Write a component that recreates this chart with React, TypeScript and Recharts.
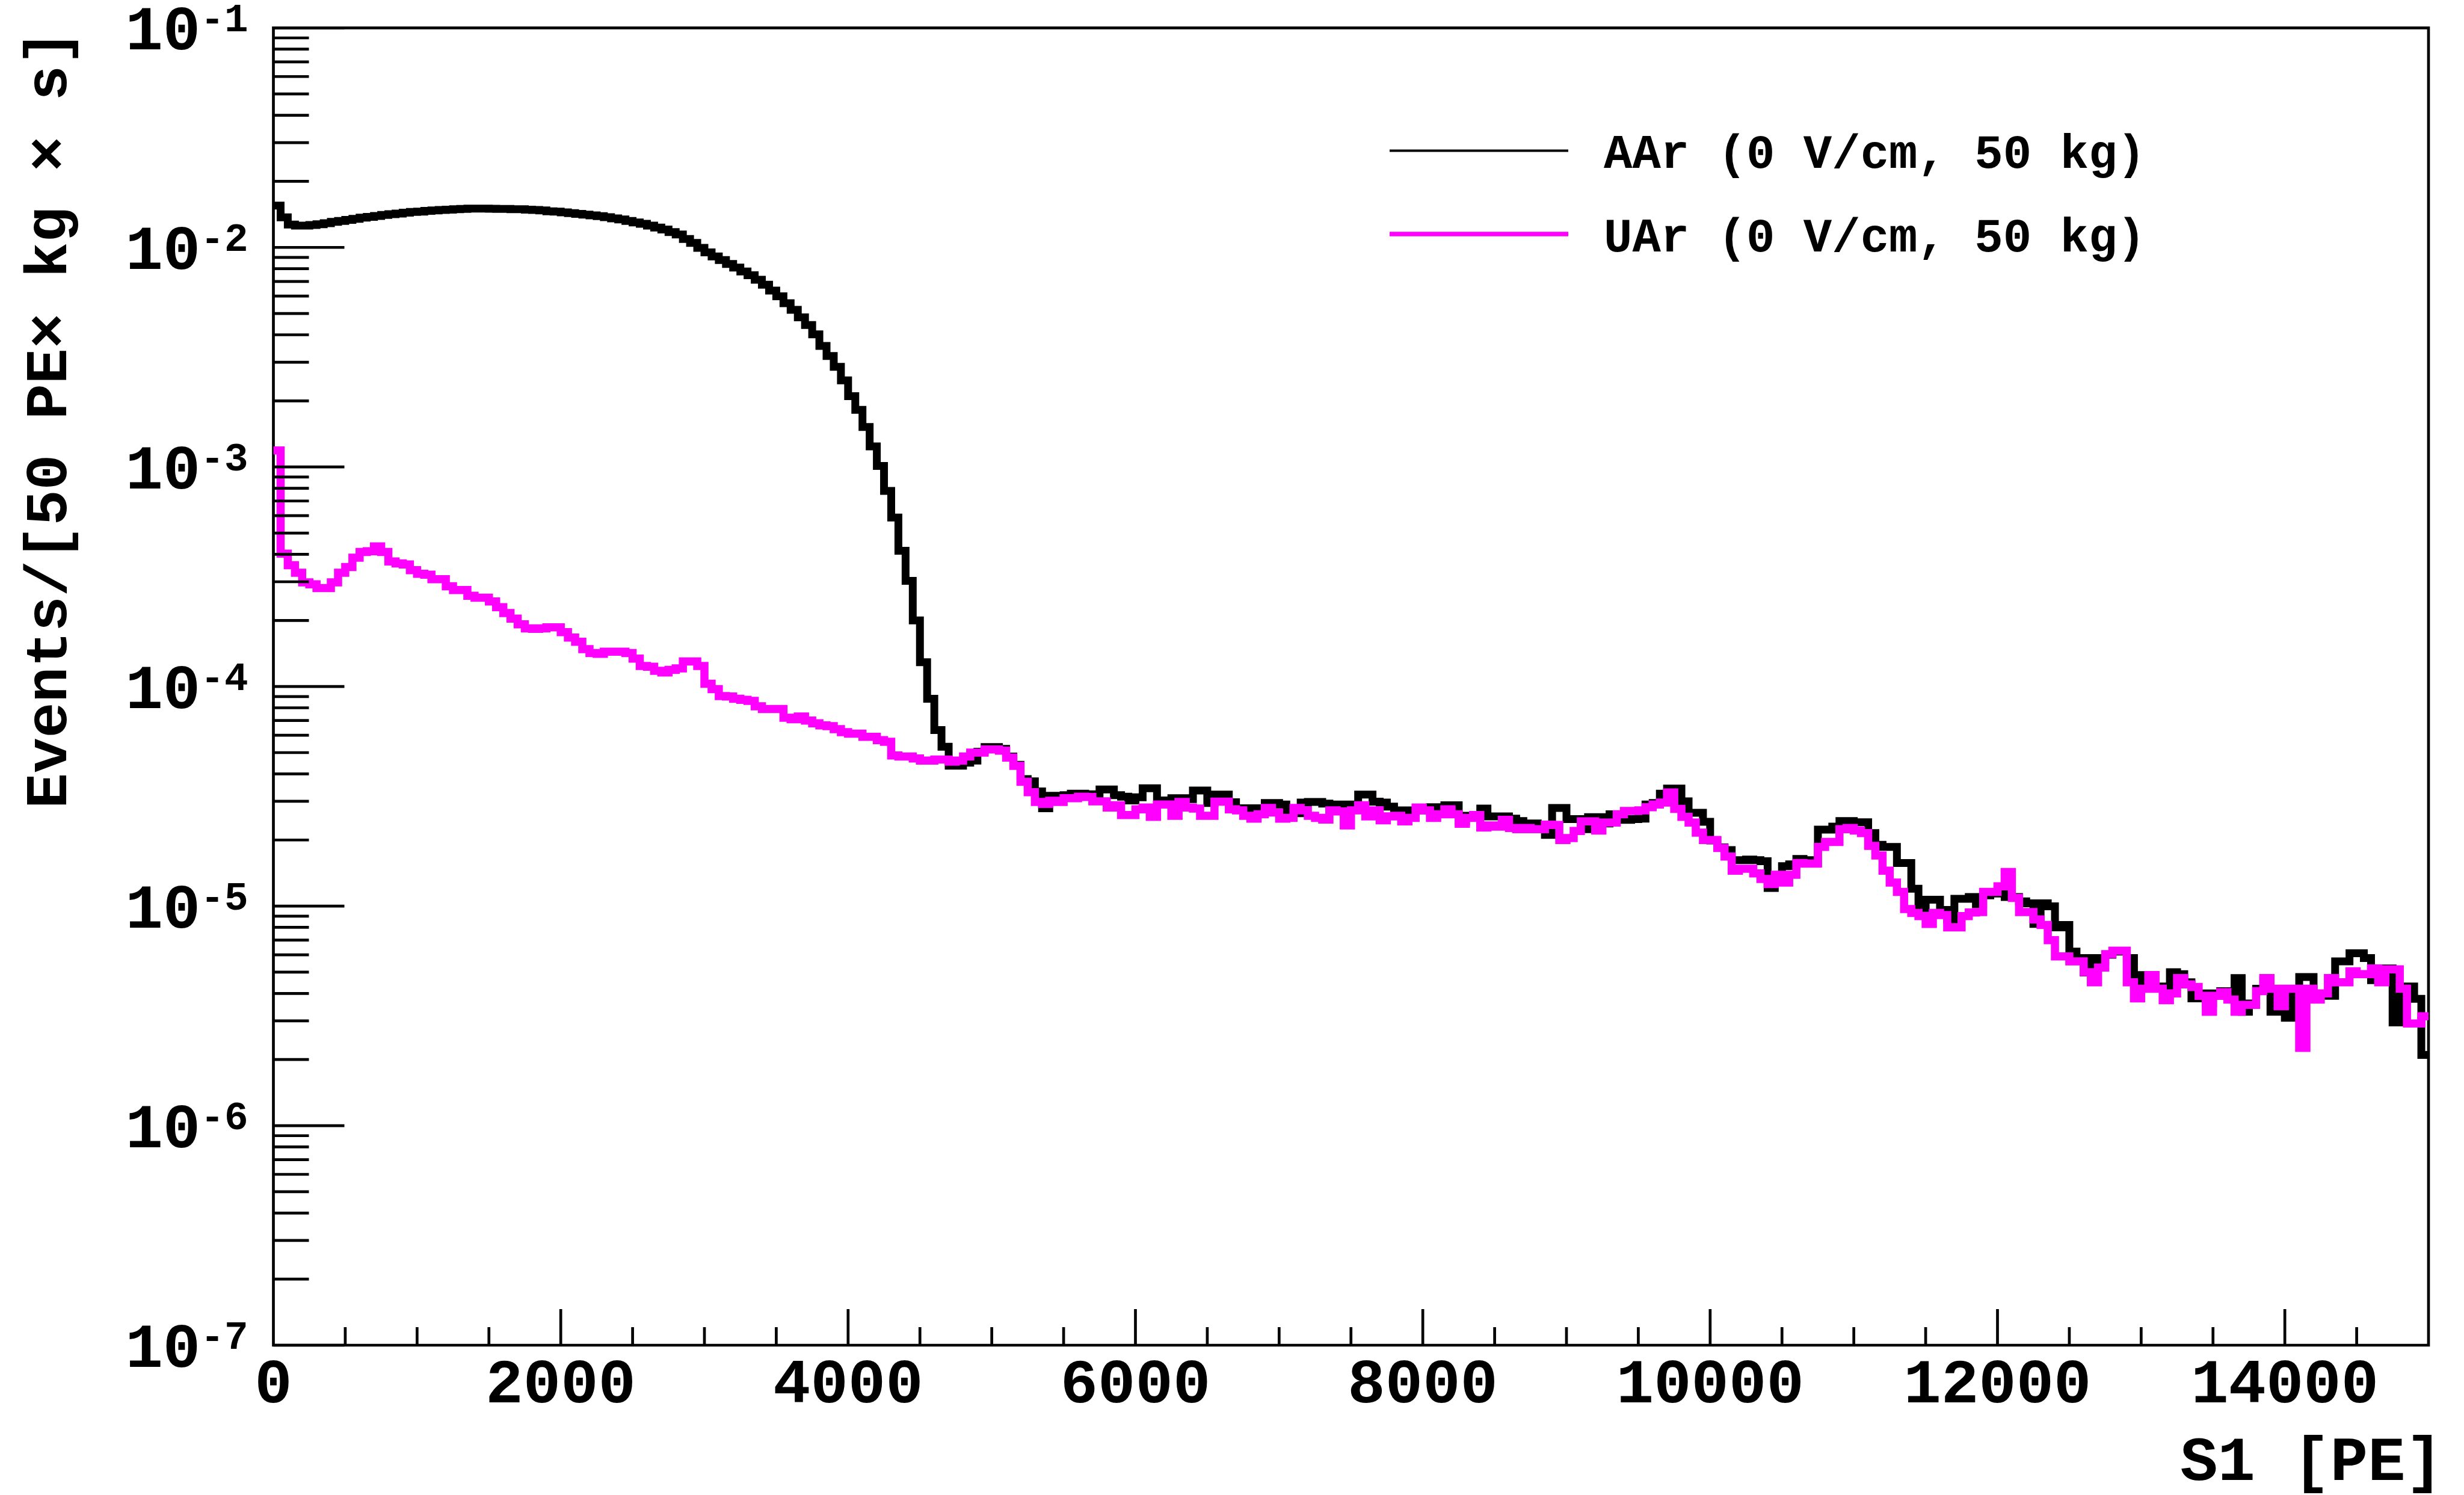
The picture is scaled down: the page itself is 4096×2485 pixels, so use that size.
import React from "react";
import { LineChart, Line, XAxis, YAxis, ReferenceArea } from "recharts";

// S1 spectra, 50 PE bins from 0 to 15000 PE, events / (50 PE x kg x s)
const BIN_WIDTH = 50;
const X_MAX = 15000;

const aarRate = [
  1.55e-2, 1.37e-2, 1.27e-2, 1.256e-2, 1.256e-2, 1.265e-2, 1.275e-2, 1.29e-2, 1.307e-2, 1.32e-2,
  1.334e-2, 1.35e-2, 1.366e-2, 1.377e-2, 1.39e-2, 1.405e-2, 1.416e-2, 1.427e-2, 1.439e-2, 1.45e-2,
  1.456e-2, 1.467e-2, 1.475e-2, 1.48e-2, 1.486e-2, 1.492e-2, 1.497e-2, 1.503e-2, 1.503e-2, 1.503e-2,
  1.5e-2, 1.497e-2, 1.497e-2, 1.492e-2, 1.492e-2, 1.486e-2, 1.48e-2, 1.475e-2, 1.46e-2, 1.456e-2,
  1.445e-2, 1.433e-2, 1.422e-2, 1.41e-2, 1.399e-2, 1.388e-2, 1.372e-2, 1.355e-2, 1.34e-2, 1.32e-2,
  1.3e-2, 1.281e-2, 1.256e-2, 1.231e-2, 1.207e-2, 1.174e-2, 1.145e-2, 1.092e-2, 1.049e-2, 9.96e-3,
  9.5e-3, 9.1e-3, 8.76e-3, 8.41e-3, 8.09e-3, 7.77e-3, 7.47e-3, 7.12e-3, 6.76e-3, 6.36e-3,
  5.99e-3, 5.57e-3, 5.2e-3, 4.8e-3, 4.43e-3, 4.02e-3, 3.56e-3, 3.2e-3, 2.86e-3, 2.48e-3,
  2.1e-3, 1.82e-3, 1.52e-3, 1.24e-3, 1.01e-3, 7.78e-4, 5.88e-4, 4.15e-4, 3.03e-4, 2.0e-4,
  1.29e-4, 8.8e-5, 6.34e-5, 5.32e-5, 4.36e-5, 4.36e-5, 4.5e-5, 4.6e-5, 5.05e-5, 5.3e-5,
  5.3e-5, 5.2e-5, 4.8e-5, 4.4e-5, 3.79e-5, 3.7e-5, 3.33e-5, 2.79e-5, 3.18e-5, 3.18e-5,
  3.2e-5, 3.25e-5, 3.25e-5, 3.23e-5, 3.23e-5, 3.4e-5, 3.4e-5, 3.2e-5, 3.15e-5, 3.03e-5,
  3.13e-5, 3.44e-5, 3.44e-5, 3.0e-5, 3.03e-5, 3.1e-5, 3.1e-5, 3.07e-5, 3.36e-5, 3.36e-5,
  2.95e-5, 3.22e-5, 3.22e-5, 2.97e-5, 2.79e-5, 2.79e-5, 2.79e-5, 2.67e-5, 2.95e-5, 2.95e-5,
  2.9e-5, 2.67e-5, 2.65e-5, 2.96e-5, 2.98e-5, 2.98e-5, 2.93e-5, 2.73e-5, 2.9e-5, 2.9e-5,
  2.84e-5, 3.22e-5, 3.22e-5, 2.99e-5, 2.96e-5, 2.84e-5, 2.73e-5, 2.73e-5, 2.67e-5, 2.73e-5,
  2.79e-5, 2.82e-5, 2.75e-5, 2.88e-5, 2.88e-5, 2.42e-5, 2.58e-5, 2.58e-5, 2.78e-5, 2.56e-5,
  2.56e-5, 2.56e-5, 2.5e-5, 2.44e-5, 2.38e-5, 2.38e-5, 2.35e-5, 2.11e-5, 2.8e-5, 2.8e-5,
  2.49e-5, 2.49e-5, 2.24e-5, 2.54e-5, 2.54e-5, 2.38e-5, 2.62e-5, 2.62e-5, 2.47e-5, 2.49e-5,
  2.5e-5, 2.9e-5, 2.95e-5, 3.25e-5, 3.43e-5, 3.43e-5, 3.0e-5, 2.66e-5, 2.66e-5, 2.42e-5,
  1.99e-5, 1.85e-5, 1.8e-5, 1.62e-5, 1.62e-5, 1.63e-5, 1.62e-5, 1.6e-5, 1.21e-5, 1.31e-5,
  1.52e-5, 1.55e-5, 1.64e-5, 1.62e-5, 1.57e-5, 2.23e-5, 2.23e-5, 2.3e-5, 2.44e-5, 2.44e-5,
  2.41e-5, 2.41e-5, 2.15e-5, 1.9e-5, 1.86e-5, 1.86e-5, 1.57e-5, 1.57e-5, 1.2e-5, 9.8e-6,
  1.07e-5, 1.07e-5, 9.6e-6, 8.7e-6, 1.08e-5, 1.08e-5, 1.1e-5, 1.02e-5, 1.12e-5, 1.14e-5,
  1.14e-5, 1.1e-5, 1.1e-5, 1.05e-5, 1.03e-5, 8.3e-6, 1.03e-5, 9.97e-6, 8.0e-6, 8.2e-6,
  6.2e-6, 5.8e-6, 4.98e-6, 5.8e-6, 5.6e-6, 6.0e-6, 6.2e-6, 6.2e-6, 5.8e-6, 4.85e-6,
  4.3e-6, 4.8e-6, 4.2e-6, 4.3e-6, 5.0e-6, 4.9e-6, 4.5e-6, 3.8e-6, 4.0e-6, 3.6e-6,
  4.0e-6, 4.1e-6, 3.8e-6, 4.7e-6, 3.3e-6, 3.6e-6, 4.2e-6, 4.6e-6, 3.3e-6, 3.3e-6,
  3.1e-6, 4.1e-6, 4.75e-6, 4.75e-6, 3.9e-6, 3.9e-6, 3.9e-6, 5.6e-6, 5.6e-6, 6.1e-6,
  6.1e-6, 5.8e-6, 4.6e-6, 4.8e-6, 5.2e-6, 2.95e-6, 4.3e-6, 4.3e-6, 3.78e-6, 2.1e-6,
];

const uarRate = [
  1.19e-3, 4.03e-4, 3.57e-4, 3.3e-4, 2.98e-4, 2.92e-4, 2.81e-4, 2.81e-4, 2.98e-4, 3.3e-4,
  3.5e-4, 3.86e-4, 4.1e-4, 4.13e-4, 4.35e-4, 4.1e-4, 3.71e-4, 3.64e-4, 3.6e-4, 3.39e-4,
  3.26e-4, 3.23e-4, 3.08e-4, 3.08e-4, 2.86e-4, 2.75e-4, 2.75e-4, 2.59e-4, 2.54e-4, 2.54e-4,
  2.44e-4, 2.3e-4, 2.16e-4, 2.04e-4, 1.92e-4, 1.84e-4, 1.83e-4, 1.84e-4, 1.86e-4, 1.86e-4,
  1.77e-4, 1.67e-4, 1.6e-4, 1.48e-4, 1.42e-4, 1.41e-4, 1.44e-4, 1.44e-4, 1.44e-4, 1.42e-4,
  1.34e-4, 1.24e-4, 1.23e-4, 1.18e-4, 1.16e-4, 1.19e-4, 1.21e-4, 1.3e-4, 1.3e-4, 1.24e-4,
  1.03e-4, 9.73e-5, 9.05e-5, 9.0e-5, 8.8e-5, 8.7e-5, 8.6e-5, 8.13e-5, 7.9e-5, 7.9e-5,
  7.9e-5, 7.21e-5, 7.1e-5, 7.3e-5, 7.0e-5, 6.8e-5, 6.65e-5, 6.6e-5, 6.4e-5, 6.2e-5,
  6.1e-5, 6.1e-5, 5.9e-5, 5.9e-5, 5.7e-5, 5.6e-5, 4.85e-5, 4.8e-5, 4.8e-5, 4.7e-5,
  4.6e-5, 4.6e-5, 4.65e-5, 4.65e-5, 4.55e-5, 4.6e-5, 4.8e-5, 5.0e-5, 5.0e-5, 5.17e-5,
  5.17e-5, 5.1e-5, 4.75e-5, 4.35e-5, 3.68e-5, 3.3e-5, 2.98e-5, 2.92e-5, 3.02e-5, 2.98e-5,
  3.1e-5, 3.1e-5, 3.15e-5, 3.14e-5, 3.0e-5, 3.0e-5, 2.81e-5, 2.88e-5, 2.6e-5, 2.6e-5,
  2.76e-5, 2.81e-5, 2.55e-5, 2.9e-5, 2.9e-5, 2.58e-5, 2.98e-5, 2.81e-5, 2.78e-5, 2.58e-5,
  2.58e-5, 2.99e-5, 2.99e-5, 2.76e-5, 2.73e-5, 2.58e-5, 2.5e-5, 2.62e-5, 2.8e-5, 2.67e-5,
  2.5e-5, 2.52e-5, 2.8e-5, 2.73e-5, 2.58e-5, 2.52e-5, 2.48e-5, 2.73e-5, 2.7e-5, 2.33e-5,
  2.73e-5, 2.88e-5, 2.56e-5, 2.73e-5, 2.46e-5, 2.56e-5, 2.58e-5, 2.43e-5, 2.52e-5, 2.81e-5,
  2.73e-5, 2.52e-5, 2.62e-5, 2.76e-5, 2.62e-5, 2.37e-5, 2.52e-5, 2.6e-5, 2.28e-5, 2.33e-5,
  2.3e-5, 2.47e-5, 2.27e-5, 2.24e-5, 2.27e-5, 2.24e-5, 2.24e-5, 2.35e-5, 2.34e-5, 2.0e-5,
  2.04e-5, 2.2e-5, 2.43e-5, 2.43e-5, 2.21e-5, 2.4e-5, 2.4e-5, 2.62e-5, 2.71e-5, 2.71e-5,
  2.73e-5, 2.82e-5, 2.9e-5, 2.96e-5, 3.29e-5, 2.77e-5, 2.55e-5, 2.4e-5, 2.16e-5, 2.0e-5,
  2.0e-5, 1.84e-5, 1.68e-5, 1.45e-5, 1.48e-5, 1.48e-5, 1.41e-5, 1.33e-5, 1.26e-5, 1.39e-5,
  1.28e-5, 1.39e-5, 1.57e-5, 1.56e-5, 1.56e-5, 1.86e-5, 1.96e-5, 1.96e-5, 2.24e-5, 2.27e-5,
  2.21e-5, 2.15e-5, 1.88e-5, 1.7e-5, 1.45e-5, 1.28e-5, 1.16e-5, 9.7e-6, 9.3e-6, 9.0e-6,
  8.3e-6, 9.3e-6, 9.1e-6, 8.0e-6, 8.0e-6, 9.0e-6, 9.35e-6, 9.4e-6, 1.16e-5, 1.16e-5,
  1.23e-5, 1.43e-5, 1.09e-5, 9.4e-6, 9.4e-6, 8.7e-6, 8.2e-6, 7.0e-6, 5.9e-6, 5.9e-6,
  5.6e-6, 5.6e-6, 5.0e-6, 4.5e-6, 5.25e-6, 6.04e-6, 6.26e-6, 6.26e-6, 4.5e-6, 3.8e-6,
  4.2e-6, 4.85e-6, 4.2e-6, 3.73e-6, 4.0e-6, 4.7e-6, 4.4e-6, 4.28e-6, 3.9e-6, 3.3e-6,
  3.9e-6, 4.05e-6, 3.75e-6, 3.3e-6, 3.55e-6, 3.55e-6, 4.1e-6, 4.7e-6, 4.2e-6, 3.5e-6,
  4.2e-6, 4.2e-6, 2.26e-6, 4.2e-6, 3.75e-6, 4.0e-6, 4.7e-6, 4.5e-6, 4.5e-6, 5.05e-6,
  4.9e-6, 4.9e-6, 5.2e-6, 4.5e-6, 5.15e-6, 5.15e-6, 4.2e-6, 2.92e-6, 2.92e-6, 3.15e-6,
];

const seriesLabels = ["AAr (0 V/cm, 50 kg)", "UAr (0 V/cm, 50 kg)"];
const xTitle = "S1 [PE]";
const yTitle = "Events/[50 PE\u00d7 kg \u00d7 s]";
const yDecades = [-7, -6, -5, -4, -3, -2, -1];
const xMajorStep = 2000;
const xMinorStep = 500;

// layout (px in the 4096 x 2485 window)
const W = 4096;
const H = 2485;
const PLOT_L = 454.5;
const PLOT_R = 4037;
const PLOT_T = 46.3;
const PLOT_B = 2236;
const FONT = "'Liberation Mono', 'Courier New', monospace";
const LW = 4.7;

const rows = aarRate.map((v, i) => ({ s1: i * BIN_WIDTH, aar: v, uar: uarRate[i] }));
rows.push({ s1: X_MAX, aar: aarRate[aarRate.length - 1], uar: uarRate[uarRate.length - 1] });

const xTicks: number[] = [];
for (let t = 0; t <= X_MAX; t += xMinorStep) xTicks.push(t);

const yTicks: number[] = [];
yDecades.forEach((e) => {
  if (e === yDecades[yDecades.length - 1]) {
    yTicks.push(Math.pow(10, e));
  } else {
    for (let m = 1; m <= 9; m++) yTicks.push(m * Math.pow(10, e));
  }
});

function YTick(props: any) {
  const { x, y, payload } = props;
  const v = payload.value;
  const e = Math.round(Math.log10(v));
  const major = Math.abs(v / Math.pow(10, e) - 1) < 1e-6;
  return (
    <g>
      <line x1={x} x2={x + (major ? 118 : 59)} y1={y} y2={y} stroke="#000" strokeWidth={LW} />
      {major && (
        <text x={x - 42} y={y + 36} textAnchor="end" fontFamily={FONT} fontWeight="bold" fontSize={104} fill="#000">
          <tspan>10</tspan>
          <tspan dy={-30} fontSize={66}>{`-${-e}`}</tspan>
        </text>
      )}
    </g>
  );
}

function XTick(props: any) {
  const { x, y, payload } = props;
  const v = payload.value;
  const major = v % xMajorStep === 0;
  return (
    <g>
      {v > 0 && v < X_MAX && (
        <line x1={x} x2={x} y1={y} y2={y - (major ? 60 : 30)} stroke="#000" strokeWidth={LW} />
      )}
      {major && (
        <text x={x} y={y + 95} textAnchor="middle" fontFamily={FONT} fontWeight="bold" fontSize={104} fill="#000">
          {v}
        </text>
      )}
    </g>
  );
}

export default function App() {
  return (
    <div style={{ position: "absolute", left: 0, top: 0, width: W, height: H, background: "#fff" }}>
      <LineChart
        width={W}
        height={H}
        data={rows}
        margin={{ top: PLOT_T, right: W - PLOT_R, bottom: H - PLOT_B - 10, left: PLOT_L - 10 }}
      >
        <XAxis
          dataKey="s1"
          type="number"
          domain={[0, X_MAX]}
          allowDataOverflow
          ticks={xTicks}
          interval={0}
          height={10}
          tickSize={0}
          tickMargin={0}
          axisLine={false}
          tickLine={false}
          tick={(p: any) => <XTick {...p} />}
        />
        <YAxis
          type="number"
          scale="log"
          domain={[1e-7, 1e-1]}
          allowDataOverflow
          ticks={yTicks}
          interval={0}
          width={10}
          tickSize={0}
          tickMargin={0}
          axisLine={false}
          tickLine={false}
          tick={(p: any) => <YTick {...p} />}
        />
        <Line
          dataKey="aar"
          type="stepAfter"
          stroke="#000000"
          strokeWidth={13}
          strokeLinejoin="miter"
          strokeLinecap="butt"
          dot={false}
          activeDot={false}
          isAnimationActive={false}
        />
        <Line
          dataKey="uar"
          type="stepAfter"
          stroke="#ff00ff"
          strokeWidth={13.5}
          strokeLinejoin="miter"
          strokeLinecap="butt"
          dot={false}
          activeDot={false}
          isAnimationActive={false}
        />
        <ReferenceArea
          x1={0}
          x2={X_MAX}
          y1={1e-7}
          y2={1e-1}
          fill="none"
          fillOpacity={0}
          stroke="#000"
          strokeWidth={LW}
          ifOverflow="visible"
        />
      </LineChart>
      <svg
        width={W}
        height={H}
        style={{ position: "absolute", left: 0, top: 0, pointerEvents: "none" }}
      >
        <text
          x={110}
          y={50}
          transform="rotate(-90 110 50)"
          textAnchor="end"
          fontFamily={FONT}
          fontWeight="bold"
          fontSize={98}
          fill="#000"
        >
          {yTitle}
        </text>
        <text x={4061} y={2460} textAnchor="end" fontFamily={FONT} fontWeight="bold" fontSize={104} fill="#000">
          {xTitle}
        </text>
        <line x1={2310} x2={2607} y1={250.5} y2={250.5} stroke="#000000" strokeWidth={3.8} />
        <text x={2666} y={278.5} fontFamily={FONT} fontWeight="bold" fontSize={79} fill="#000">
          {seriesLabels[0]}
        </text>
        <line x1={2310} x2={2607} y1={389} y2={389} stroke="#ff00ff" strokeWidth={7.3} />
        <text x={2666} y={417.5} fontFamily={FONT} fontWeight="bold" fontSize={79} fill="#000">
          {seriesLabels[1]}
        </text>
      </svg>
    </div>
  );
}
